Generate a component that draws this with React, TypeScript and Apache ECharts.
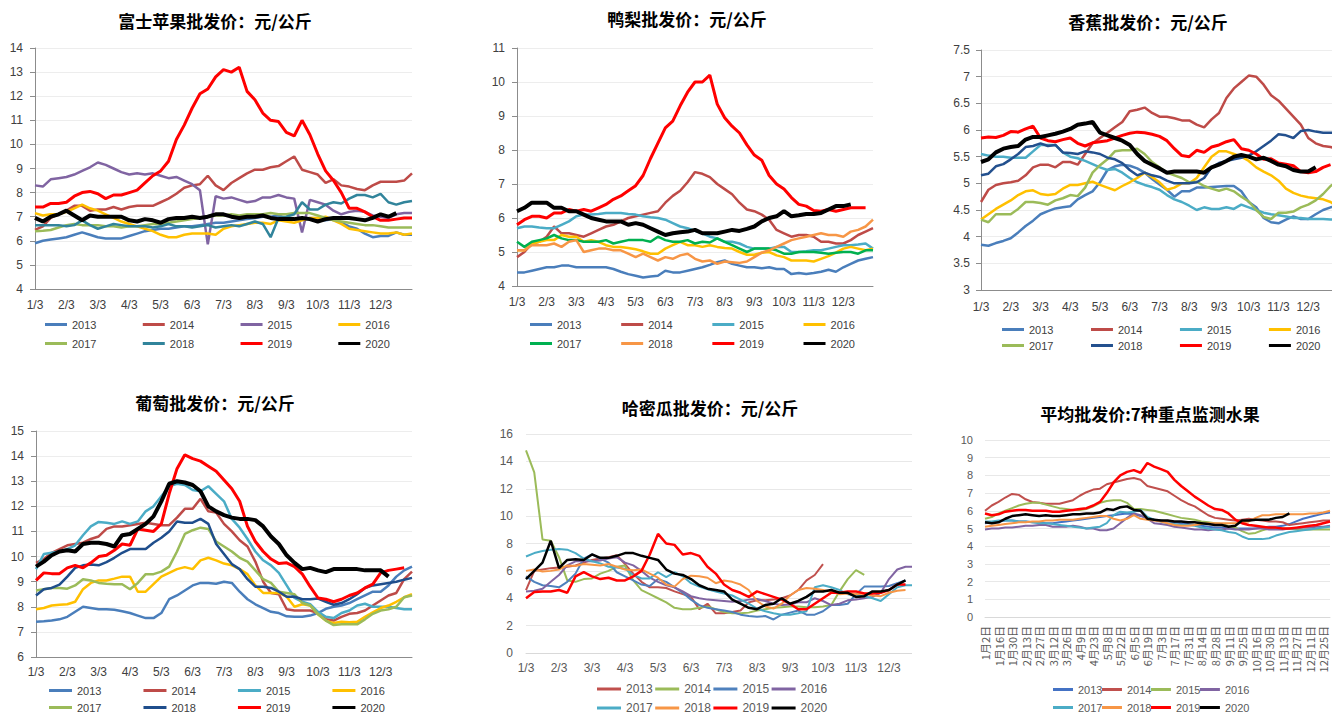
import React, { useEffect, useRef } from "react";
import * as echarts from "echarts";

const YEARS = ["2013", "2014", "2015", "2016", "2017", "2018", "2019", "2020"];
const MONTH_LABELS = ["1/3", "2/3", "3/3", "4/3", "5/3", "6/3", "7/3", "8/3", "9/3", "10/3", "11/3", "12/3"];
const WEEK_DAYS = ["3", "10", "17", "24"];
const WEEK_CATS: string[] = MONTH_LABELS.flatMap((m) => {
  const mo = m.split("/")[0];
  return WEEK_DAYS.map((d) => `${mo}/${d}`);
}).concat(["12/31"]);

const AVG_DATES = [
  "1月2日", "1月9日", "1月16日", "1月23日", "1月30日", "2月6日", "2月13日", "2月20日", "2月27日", "3月5日",
  "3月12日", "3月19日", "3月26日", "4月2日", "4月9日", "4月16日", "4月23日", "5月1日", "5月8日", "5月15日",
  "5月22日", "5月29日", "6月5日", "6月12日", "6月19日", "6月26日", "7月3日", "7月10日", "7月17日", "7月24日",
  "7月31日", "8月7日", "8月14日", "8月21日", "8月28日", "9月4日", "9月11日", "9月18日", "9月25日", "10月9日",
  "10月16日", "10月23日", "10月30日", "11月6日", "11月13日", "11月20日", "11月27日", "12月4日", "12月11日", "12月18日",
  "12月25日", "12月31日",
];

// ---------- 富士苹果 ----------
const fuji2013 = [5.9,6.0,6.05,6.1,6.15,6.25,6.35,6.25,6.15,6.1, 6.1,6.1,6.2,6.3,6.4,6.45,6.5,6.5,6.55,6.6, 6.6,6.65,6.7,6.75,6.75,6.8,6.85,6.9,6.95,7.0, 7.0,7.05,6.95,6.9,6.9,6.9,6.85,6.85,6.9,6.75, 6.6,6.5,6.3,6.15,6.2,6.2,6.35,6.25,6.25];
const fuji2014 = [6.45,6.6,6.95,7.1,7.25,7.45,7.45,7.25,7.3,7.3, 7.4,7.3,7.4,7.45,7.45,7.45,7.6,7.75,7.95,8.2, 8.3,8.35,8.7,8.3,8.1,8.4,8.6,8.8,8.95,8.95, 9.05,9.1,9.3,9.5,8.95,8.85,8.75,8.4,8.55,8.3, 8.25,8.15,8.1,8.3,8.45,8.45,8.45,8.5,8.8];
const fuji2015 = [8.3,8.25,8.55,8.6,8.65,8.75,8.9,9.05,9.25,9.15, 9.0,8.85,8.75,8.8,8.75,8.8,8.7,8.6,8.65,8.5, 8.35,8.1,5.85,7.85,7.75,7.8,7.7,7.6,7.65,7.8, 7.8,7.9,7.8,7.75,6.35,7.7,7.6,7.5,7.25,7.1, 7.2,7.25,7.2,7.05,7.0,6.95,7.1,7.15,7.15];
const fuji2016 = [7.15,7.05,7.1,7.1,7.2,7.35,7.5,7.35,7.25,7.1, 6.95,6.8,6.7,6.6,6.5,6.4,6.25,6.15,6.15,6.25, 6.3,6.3,6.3,6.25,6.5,6.6,6.65,6.7,6.75,6.75, 6.7,6.85,6.8,6.75,6.85,6.95,6.95,7.0,6.85,6.7, 6.5,6.45,6.4,6.35,6.3,6.3,6.35,6.25,6.3];
const fuji2017 = [6.4,6.42,6.45,6.55,6.65,6.7,6.65,6.65,6.65,6.6, 6.6,6.55,6.6,6.6,6.65,6.7,6.7,6.75,6.8,6.85, 6.9,6.95,7.0,7.05,7.05,7.1,7.05,7.1,7.1,7.1, 7.15,7.1,7.1,7.15,7.15,7.15,7.05,6.95,6.85,6.8, 6.75,6.7,6.65,6.65,6.6,6.55,6.55,6.55,6.55];
const fuji2018 = [6.65,6.65,6.65,6.65,6.6,6.65,6.85,6.65,6.5,6.6, 6.7,6.65,6.6,6.6,6.6,6.55,6.6,6.7,6.6,6.6, 6.55,6.6,6.65,6.55,6.6,6.65,6.6,6.7,6.8,6.7, 6.15,6.95,7.0,7.1,7.6,7.3,7.3,7.5,7.6,7.55, 7.75,7.9,7.9,7.8,7.95,7.6,7.5,7.6,7.65];
const fuji2019 = [7.4,7.4,7.55,7.55,7.6,7.85,8.0,8.05,7.95,7.75, 7.9,7.9,8.0,8.1,8.4,8.7,8.9,9.3,10.2,10.8, 11.5,12.1,12.3,12.8,13.1,13.0,13.2,12.2,11.85,11.3, 11.0,10.95,10.5,10.35,11.0,10.4,9.6,8.9,8.5,8.0, 7.35,7.35,7.2,7.0,6.85,6.85,6.9,6.95,6.95];
const fuji2020 = [6.95,6.8,7.0,7.1,7.25,7.05,6.85,7.05,7.0,7.0, 7.0,7.0,6.85,6.8,6.9,6.85,6.75,6.9,6.95,6.95, 7.0,6.95,7.0,7.1,7.1,7.0,6.95,7.0,7.0,7.05, 6.95,6.9,6.9,6.9,6.95,6.9,6.8,6.9,6.95,6.95, 6.95,6.9,6.85,6.95,7.1,7.0,7.15];

// ---------- 鸭梨 ----------
const pear2013 = [4.4,4.4,4.45,4.5,4.55,4.55,4.6,4.6,4.55,4.55, 4.55,4.55,4.55,4.5,4.42,4.35,4.3,4.25,4.28,4.3, 4.45,4.4,4.4,4.45,4.5,4.55,4.62,4.7,4.75,4.65, 4.6,4.55,4.55,4.52,4.55,4.5,4.5,4.35,4.38,4.35, 4.38,4.42,4.48,4.42,4.55,4.65,4.75,4.8,4.85];
const pear2014 = [4.85,5.0,5.25,5.3,5.45,5.75,5.55,5.55,5.5,5.45, 5.55,5.65,5.75,5.8,5.9,6.0,6.05,6.1,6.15,6.2, 6.45,6.65,6.8,7.05,7.35,7.3,7.2,7.0,6.85,6.7, 6.45,6.25,6.2,6.1,5.95,5.65,5.55,5.45,5.5,5.5, 5.45,5.3,5.3,5.25,5.25,5.35,5.5,5.6,5.7];
const pear2015 = [5.7,5.75,5.75,5.72,5.7,5.7,5.8,5.9,6.05,6.1, 6.1,6.12,6.15,6.15,6.15,6.12,6.1,6.05,6.02,6.0, 5.95,5.85,5.75,5.7,5.62,5.55,5.45,5.4,5.3,5.3, 5.25,5.15,5.1,5.1,5.1,5.15,5.15,5.0,5.0,5.02, 5.05,5.05,5.1,5.15,5.2,5.2,5.22,5.25,5.1];
const pear2016 = [5.05,5.05,5.25,5.3,5.35,5.35,5.5,5.45,5.45,5.3, 5.35,5.3,5.2,5.15,5.15,5.12,5.08,5.02,4.95,4.95, 5.1,5.2,5.3,5.2,5.2,5.15,5.2,5.15,5.12,5.1, 5.0,4.92,4.92,4.98,5.0,4.9,4.85,4.75,4.75,4.75, 4.72,4.8,4.88,4.98,5.1,5.15,5.1,5.05,5.1];
const pear2017 = [5.3,5.15,5.3,5.35,5.4,5.5,5.4,5.35,5.35,5.3, 5.3,5.3,5.35,5.25,5.3,5.35,5.35,5.35,5.3,5.45, 5.35,5.3,5.3,5.35,5.25,5.3,5.28,5.4,5.3,5.2, 5.1,5.0,5.1,5.1,5.1,5.05,4.95,4.95,5.0,5.0, 5.0,4.98,4.95,4.98,5.0,5.0,4.95,5.05,5.05];
const pear2018 = [5.05,5.05,5.2,5.2,5.2,5.25,5.15,5.3,5.35,5.0, 5.05,5.1,5.1,5.05,5.05,4.95,4.85,4.95,4.85,4.75, 4.85,4.8,4.9,4.95,4.8,4.72,4.75,4.65,4.72,4.7, 4.68,4.72,4.85,4.98,5.05,5.15,5.25,5.35,5.4,5.45, 5.5,5.55,5.5,5.5,5.45,5.6,5.65,5.75,5.95];
const pear2019 = [5.8,5.95,6.05,6.05,6.0,6.15,6.15,6.25,6.2,6.25, 6.2,6.3,6.4,6.55,6.65,6.8,6.95,7.25,7.75,8.2, 8.65,8.85,9.3,9.7,10.0,10.0,10.2,9.35,8.95,8.7, 8.5,8.15,7.85,7.7,7.25,7.0,6.85,6.6,6.4,6.35, 6.22,6.2,6.25,6.2,6.25,6.3,6.3,6.3];
const pear2020 = [6.2,6.3,6.45,6.45,6.45,6.3,6.3,6.2,6.2,6.1, 6.0,5.95,5.9,5.9,5.9,5.8,5.85,5.8,5.7,5.6, 5.5,5.55,5.58,5.6,5.65,5.55,5.55,5.55,5.6,5.65, 5.62,5.68,5.75,5.9,6.0,6.05,6.2,6.05,6.08,6.12, 6.12,6.15,6.25,6.35,6.35,6.4];

// ---------- 香蕉 ----------
const ban2013 = [3.85,3.83,3.88,3.92,3.97,4.08,4.2,4.3,4.42,4.48, 4.53,4.55,4.57,4.7,4.78,4.85,5.02,5.25,5.32,5.35, 5.33,5.28,5.2,5.08,4.98,4.88,4.75,4.85,4.85,4.92, 4.92,4.93,4.94,4.95,4.95,4.85,4.65,4.55,4.35,4.27, 4.25,4.32,4.38,4.33,4.33,4.42,4.5,4.55,4.58];
const ban2014 = [4.65,4.88,4.97,5.0,5.02,5.05,5.15,5.3,5.35,5.35, 5.3,5.4,5.4,5.35,5.55,5.75,5.85,5.95,6.05,6.15, 6.35,6.38,6.42,6.32,6.25,6.25,6.22,6.18,6.18,6.1, 6.05,6.2,6.32,6.6,6.78,6.9,7.02,7.0,6.85,6.65, 6.55,6.4,6.25,6.1,5.85,5.75,5.7,5.68,5.65];
const ban2015 = [5.55,5.52,5.5,5.5,5.48,5.48,5.48,5.6,5.72,5.72, 5.72,5.58,5.5,5.47,5.42,5.36,5.3,5.25,5.27,5.2, 5.1,5.02,4.97,4.93,4.88,4.78,4.7,4.65,4.58,4.5, 4.55,4.52,4.52,4.55,4.52,4.6,4.55,4.5,4.45,4.42, 4.4,4.38,4.35,4.35,4.33,4.33,4.33,4.32,4.32];
const ban2016 = [4.32,4.42,4.52,4.6,4.68,4.78,4.85,4.87,4.8,4.78, 4.8,4.9,4.97,4.97,5.0,5.03,4.97,4.92,4.87,4.95, 5.02,5.1,5.2,5.12,5.02,4.88,4.92,5.0,5.0,5.1, 5.3,5.5,5.6,5.6,5.55,5.5,5.42,5.3,5.22,5.15, 5.05,4.9,4.82,4.77,4.74,4.72,4.7,4.65,4.55];
const ban2017 = [4.32,4.27,4.42,4.42,4.42,4.52,4.65,4.65,4.63,4.6, 4.68,4.72,4.78,4.76,4.92,5.2,5.34,5.45,5.6,5.62, 5.62,5.65,5.55,5.4,5.3,5.2,5.15,5.1,5.02,5.03, 4.95,4.9,4.86,4.9,4.85,4.75,4.66,4.5,4.37,4.33, 4.45,4.45,4.47,4.55,4.6,4.68,4.8,4.95,5.05];
const ban2018 = [5.15,5.18,5.32,5.36,5.45,5.55,5.68,5.7,5.75,5.7, 5.72,5.58,5.57,5.55,5.6,5.58,5.55,5.48,5.45,5.38, 5.25,5.15,5.2,5.15,5.12,5.05,5.0,5.0,5.0,5.02, 5.1,5.3,5.38,5.42,5.45,5.48,5.52,5.6,5.7,5.8, 5.92,5.9,5.85,5.98,6.0,5.97,5.95,5.95,5.95];
const ban2019 = [5.85,5.87,5.86,5.9,5.97,5.96,6.02,6.07,5.85,5.8, 5.78,5.82,5.85,5.75,5.7,5.76,5.78,5.8,5.85,5.9, 5.94,5.96,5.95,5.92,5.88,5.8,5.65,5.52,5.5,5.62, 5.58,5.68,5.72,5.78,5.82,5.65,5.62,5.55,5.45,5.46, 5.38,5.36,5.33,5.22,5.2,5.22,5.3,5.35];
const ban2020 = [5.4,5.45,5.58,5.65,5.68,5.7,5.82,5.87,5.87,5.9, 5.93,5.97,6.02,6.1,6.12,6.15,5.95,5.9,5.85,5.8, 5.72,5.55,5.42,5.35,5.28,5.2,5.22,5.22,5.22,5.22, 5.2,5.3,5.35,5.42,5.5,5.53,5.5,5.45,5.48,5.42, 5.35,5.32,5.25,5.22,5.22,5.3];

// ---------- 葡萄 ----------
const gr2013 = [7.4,7.42,7.45,7.5,7.6,7.8,8.0,7.95,7.9,7.9, 7.88,7.82,7.75,7.65,7.55,7.55,7.75,8.3,8.45,8.65, 8.85,8.95,8.95,8.92,9.0,8.95,8.6,8.3,8.1,7.95, 7.8,7.75,7.62,7.6,7.6,7.65,7.75,7.92,8.0,8.05, 8.15,8.3,8.45,8.6,8.6,8.85,9.2,9.45,9.6];
const gr2014 = [9.75,9.9,10.15,10.3,10.45,10.5,10.55,10.7,10.8,11.1, 11.2,11.2,11.25,11.3,11.35,11.3,11.25,11.25,11.55,11.9, 11.9,12.3,11.8,11.75,11.3,11.0,10.65,10.4,9.8,9.0, 8.55,8.5,7.9,7.85,7.85,7.85,7.75,7.5,7.45,7.6, 7.72,7.75,7.85,8.05,8.25,8.45,8.55,9.1,9.4];
const gr2015 = [9.5,10.1,10.15,10.2,10.3,10.45,10.85,11.2,11.38,11.35, 11.3,11.4,11.3,11.4,11.8,12.0,12.4,12.8,12.9,12.85, 12.65,12.6,12.8,12.5,12.2,11.5,11.15,10.7,10.2,9.85, 9.65,9.35,8.85,8.35,8.2,8.1,7.8,7.6,7.55,7.75, 7.85,8.05,8.12,8.0,8.0,8.0,7.95,7.9,7.9];
const gr2016 = [7.9,7.95,8.05,8.08,8.1,8.2,8.7,8.95,9.05,9.05, 9.12,9.2,9.2,8.6,8.6,8.9,9.2,9.35,9.5,9.58, 9.5,9.85,9.95,9.85,9.72,9.65,9.5,9.3,8.85,8.55, 8.55,8.55,8.4,8.0,8.1,8.05,7.7,7.45,7.35,7.4, 7.38,7.4,7.6,7.78,7.95,8.05,8.2,8.38,8.5];
const gr2017 = [8.65,8.7,8.75,8.75,8.72,8.85,9.1,9.05,8.95,8.92, 8.9,8.9,8.7,8.95,9.3,9.3,9.4,9.6,10.2,10.9, 11.05,11.15,11.1,10.6,10.4,10.2,9.95,9.8,9.45,9.1, 8.95,8.6,8.55,8.5,8.15,8.05,7.7,7.45,7.27,7.3, 7.3,7.3,7.5,7.72,7.85,7.9,8.0,8.38,8.45];
const gr2018 = [8.45,8.7,8.75,8.88,9.2,9.55,9.65,9.68,9.65,9.78, 9.95,10.15,10.3,10.3,10.3,10.55,10.75,11.0,11.4,11.35, 11.35,11.5,11.3,10.5,10.1,9.7,9.5,9.1,8.8,8.8, 8.75,8.6,8.4,8.4,8.3,8.3,8.33,8.2,8.08,8.15, 8.3,8.5,8.75,8.85,8.9,8.95,9.0,9.08,9.15];
const gr2019 = [9.05,9.35,9.32,9.32,9.55,9.65,9.55,9.75,10.0,10.05, 10.25,10.5,10.45,11.1,11.05,11.0,11.3,12.5,13.5,14.05, 13.9,13.8,13.6,13.4,13.05,12.7,12.2,11.2,10.6,10.2, 9.9,9.72,9.75,9.6,9.3,8.8,8.35,8.3,8.2,8.3, 8.45,8.55,8.75,8.9,9.35,9.45,9.5,9.55];
const gr2020 = [9.6,9.8,10.05,10.2,10.25,10.2,10.5,10.55,10.55,10.5, 10.4,10.85,10.9,11.1,11.3,11.6,12.2,12.9,13.0,12.95, 12.85,12.6,12.0,11.8,11.65,11.55,11.5,11.5,11.45,11.2, 10.8,10.5,10.05,9.75,9.5,9.55,9.45,9.38,9.5,9.5, 9.5,9.5,9.45,9.45,9.45,9.2];

// ---------- 哈密瓜 ----------
const mel2013 = [4.6,6.0,6.1,6.2,6.25,6.3,6.4,6.6,6.8,6.9, 7.0,7.15,6.5,5.8,5.2,4.8,4.8,4.75,4.5,4.3, 4.1,3.2,3.6,2.9,2.9,3.0,3.1,3.7,3.85,3.85, 3.9,4.0,4.2,4.6,5.3,5.7,6.5];
const mel2014 = [14.8,13.2,8.3,8.2,7.0,5.3,5.2,5.4,5.45,5.8, 6.0,6.3,6.4,5.3,4.6,4.3,4.0,3.7,3.3,3.2, 3.2,3.3,3.4,3.2,3.0,2.9,2.9,2.95,3.1,3.2, 3.3,3.35,3.4,3.4,3.35,3.35,3.4,3.5,4.5,5.4, 6.05,5.7];
const mel2015 = [5.6,5.2,4.95,4.9,4.8,5.2,5.8,6.9,7.2,6.9, 6.6,5.9,5.6,5.3,5.0,4.9,5.4,5.2,4.8,4.4, 3.9,3.5,3.3,3.2,3.1,3.0,2.8,2.7,2.65,2.7, 2.45,2.8,2.95,3.1,2.8,2.8,3.05,3.5,3.5,3.6, 4.3,4.85,4.85,4.85,4.9,5.1,5.3];
const mel2016 = [4.5,4.55,4.7,5.2,5.7,6.4,6.7,6.7,6.7,6.75, 6.9,7.0,6.6,6.4,6.0,5.5,5.2,4.95,4.8,4.5, 4.15,4.0,3.9,3.85,3.8,3.75,3.8,3.9,3.95,3.8, 3.6,3.5,3.55,3.7,3.7,4.0,3.8,3.5,3.6,3.85, 3.9,4.0,4.1,4.4,5.4,6.1,6.3,6.3];
const mel2017 = [7.05,7.3,7.45,7.55,7.6,7.55,7.3,6.9,6.7,6.55, 6.3,6.25,6.15,5.7,5.45,5.45,5.9,5.55,5.9,5.6, 5.1,4.85,4.65,4.5,4.35,4.2,3.9,3.6,3.25,3.05, 2.9,2.8,2.8,2.9,3.05,4.8,4.95,4.8,4.6,4.3, 4.2,4.15,4.0,3.8,4.3,4.8,4.95,4.95];
const mel2018 = [6.0,6.1,5.95,6.0,6.1,6.4,6.35,6.5,6.45,6.4, 6.5,6.3,6.1,6.05,6.1,5.8,5.5,5.0,4.85,5.4, 5.65,5.6,5.5,5.1,5.3,5.2,5.0,4.6,3.8,3.4, 3.25,3.6,4.2,4.6,4.75,4.7,4.6,4.45,4.3,4.35, 4.3,4.35,4.2,4.15,4.4,4.55,4.6];
const mel2019 = [4.0,4.45,4.5,4.5,4.6,4.4,5.6,5.9,5.6,5.4, 5.5,5.3,5.3,5.6,6.0,7.2,8.7,8.0,7.9,7.2, 7.3,7.1,6.3,5.8,5.0,4.6,4.4,4.1,4.5,4.3, 4.1,3.9,3.6,3.2,3.2,3.6,4.0,4.4,4.4,4.5, 4.5,4.35,4.35,4.4,4.6,5.0,5.0];
const mel2020 = [5.4,6.0,6.6,8.2,6.2,6.8,6.85,6.8,7.2,6.95, 6.95,7.1,7.3,7.3,7.1,6.95,6.8,6.1,5.8,5.7, 5.4,4.95,4.7,4.6,4.5,3.9,3.6,3.3,3.2,3.5, 3.6,4.0,3.6,3.8,4.1,4.5,4.5,4.6,4.4,4.4, 4.1,4.15,4.5,4.5,4.6,5.0,5.3];

// ---------- 平均批发价 ----------
const avg2013 = [5.3,5.35,5.4,5.45,5.45,5.4,5.4,5.35,5.35,5.3, 5.3,5.35,5.4,5.45,5.5,5.55,5.6,5.65,5.7,5.75, 5.8,5.85,5.8,5.7,5.6,5.5,5.45,5.4,5.35,5.3, 5.25,5.2,5.15,5.1,5.05,5.05,5.0,5.0,5.0,5.0, 5.0,5.05,5.1,5.1,5.15,5.25,5.4,5.55,5.65,5.75, 5.85,5.9];
const avg2014 = [6.0,6.3,6.5,6.75,6.95,6.9,6.65,6.5,6.45,6.4, 6.4,6.4,6.5,6.6,6.85,7.05,7.2,7.25,7.5,7.6, 7.7,7.8,7.85,7.75,7.4,7.3,7.2,7.1,6.85,6.6, 6.4,6.25,6.0,5.75,5.6,5.55,5.5,5.45,5.5,5.55, 5.5,5.45,5.4,5.4,5.35,5.2,5.25,5.3,5.35,5.4, 5.45,5.45];
const avg2015 = [5.55,5.65,5.85,6.0,6.15,6.3,6.4,6.45,6.45,6.35, 6.25,6.15,6.1,6.05,6.05,6.1,6.25,6.45,6.55,6.6, 6.6,6.45,6.1,6.1,6.05,6.0,5.9,5.8,5.7,5.6, 5.55,5.5,5.4,5.35,5.3,5.25,5.15,5.05,4.85,4.7, 4.75,4.9,5.0,5.0,5.0,5.0,4.95,4.95,4.95,4.95, 4.95,4.95];
const avg2016 = [4.95,5.0,5.0,5.05,5.05,5.1,5.15,5.15,5.2,5.2, 5.1,5.1,5.1,5.15,5.1,5.0,5.0,4.9,4.9,5.0, 5.3,5.6,5.85,5.75,5.55,5.3,5.25,5.2,5.1,5.05, 5.0,4.95,4.95,4.9,4.95,4.95,5.0,4.95,4.95,4.95, 5.0,5.0,4.95,4.95,4.95,5.0,5.0,5.05,5.05,5.1, 5.1,5.15];
const avg2017 = [5.4,5.4,5.45,5.45,5.45,5.4,5.4,5.35,5.3,5.3, 5.25,5.2,5.15,5.1,5.05,5.0,5.05,5.1,5.3,5.75, 5.95,5.9,5.95,6.05,5.65,5.5,5.4,5.3,5.25,5.2, 5.2,5.15,5.05,5.0,4.95,4.9,4.8,4.75,4.55,4.4, 4.4,4.4,4.45,4.6,4.7,4.8,4.85,4.9,4.95,5.0, 5.05,5.1];
const avg2018 = [5.1,5.15,5.2,5.25,5.3,5.35,5.35,5.4,5.4,5.45, 5.45,5.5,5.5,5.5,5.55,5.6,5.65,5.7,5.7,5.55, 5.45,5.55,5.75,5.55,5.5,5.45,5.4,5.3,5.2,5.15, 5.15,5.2,5.25,5.3,5.3,5.3,5.3,5.3,5.35,5.4, 5.6,5.75,5.75,5.8,5.8,5.8,5.8,5.8,5.85,5.85, 5.9,6.0];
const avg2019 = [5.85,5.75,5.8,5.95,6.0,6.05,6.05,6.0,6.0,6.0, 5.95,5.95,6.0,6.05,6.1,6.15,6.3,6.5,7.0,7.6, 8.0,8.2,8.3,8.15,8.7,8.5,8.35,8.2,7.75,7.4, 7.1,6.8,6.55,6.3,6.1,6.05,5.85,5.5,5.3,5.2, 5.15,5.1,5.05,5.05,5.0,5.0,5.05,5.1,5.15,5.2, 5.3,5.4];
const avg2020 = [5.35,5.3,5.35,5.55,5.7,5.75,5.8,5.75,5.7,5.75, 5.7,5.7,5.75,5.8,5.8,5.85,5.85,5.9,6.1,6.05, 6.2,6.25,6.05,6.0,5.55,5.5,5.45,5.45,5.4,5.4, 5.35,5.35,5.3,5.25,5.2,5.2,5.1,5.15,5.45,5.45, 5.5,5.5,5.5,5.6,5.65,5.85];

type Panel = {
  key: string;
  box: { left: number; top: number; width: number; height: number };
  bg?: string;
  zIndex?: number;
  title: string;
  titleX: number;
  titleTop: number;
  grid: { left: number; top: number; width: number; height: number };
  yMin: number;
  yMax: number;
  yInterval: number;
  cats: string[];
  labelEvery: number;
  labelLast: number;
  rotate: number;
  xLabelMargin: number;
  yLabelMargin: number;
  labelColor: string;
  labelSize: number;
  axisColor: string;
  showYAxisLine: boolean;
  yTicks: boolean;
  gridColor: string;
  colors: string[];
  widths: number[];
  data: number[][];
  legend: { left: number; rows: [number, number]; icon: number; text: number; gap: number; size: number; color: string };
};

const W_BIG = [2.5, 2.5, 2.5, 2.5, 2.5, 2.5, 3, 4];
const W_SMALL = [2, 2, 2, 2, 2, 2, 2.5, 2.5];

const PANELS: Panel[] = [
  {
    key: "fuji", box: { left: 0, top: 0, width: 450, height: 372 },
    title: "富士苹果批发价：元/公斤", titleX: 215, titleTop: 12,
    grid: { left: 35, top: 48, width: 377, height: 241 },
    yMin: 4, yMax: 14, yInterval: 1, cats: WEEK_CATS, labelEvery: 4, labelLast: 44, rotate: 0,
    xLabelMargin: 10, yLabelMargin: 12, labelColor: "#404040", labelSize: 12, axisColor: "#8C8C8C",
    showYAxisLine: true, yTicks: true, gridColor: "#EDEDED",
    colors: ["#4A7EBB", "#BE4B48", "#8064A2", "#FFC000", "#9BBB59", "#31849B", "#FF0000", "#000000"],
    widths: W_BIG,
    data: [fuji2013, fuji2014, fuji2015, fuji2016, fuji2017, fuji2018, fuji2019, fuji2020],
    legend: { left: 45, rows: [326, 345], icon: 22, text: 25, gap: 46.3, size: 11, color: "#404040" },
  },
  {
    key: "pear", box: { left: 450, top: 0, width: 440, height: 372 },
    title: "鸭梨批发价：元/公斤", titleX: 237, titleTop: 10,
    grid: { left: 67, top: 48, width: 356, height: 238 },
    yMin: 4, yMax: 11, yInterval: 1, cats: WEEK_CATS, labelEvery: 4, labelLast: 44, rotate: 0,
    xLabelMargin: 10, yLabelMargin: 12, labelColor: "#404040", labelSize: 12, axisColor: "#8C8C8C",
    showYAxisLine: true, yTicks: true, gridColor: "#EDEDED",
    colors: ["#4A7EBB", "#BE4B48", "#4BACC6", "#FFC000", "#00B050", "#F79646", "#FF0000", "#000000"],
    widths: W_BIG,
    data: [pear2013, pear2014, pear2015, pear2016, pear2017, pear2018, pear2019, pear2020],
    legend: { left: 80, rows: [326, 345], icon: 22, text: 25, gap: 39.7, size: 11, color: "#404040" },
  },
  {
    key: "banana", box: { left: 890, top: 0, width: 460, height: 372 },
    title: "香蕉批发价：元/公斤", titleX: 258, titleTop: 13,
    grid: { left: 91, top: 50, width: 357, height: 240 },
    yMin: 3, yMax: 7.5, yInterval: 0.5, cats: WEEK_CATS, labelEvery: 4, labelLast: 44, rotate: 0,
    xLabelMargin: 11, yLabelMargin: 11, labelColor: "#404040", labelSize: 12, axisColor: "#8C8C8C",
    showYAxisLine: true, yTicks: true, gridColor: "#EDEDED",
    colors: ["#4A7EBB", "#BE4B48", "#4BACC6", "#FFC000", "#9BBB59", "#23508E", "#FF0000", "#000000"],
    widths: W_BIG,
    data: [ban2013, ban2014, ban2015, ban2016, ban2017, ban2018, ban2019, ban2020],
    legend: { left: 112, rows: [331, 347], icon: 22, text: 25, gap: 37.5, size: 11, color: "#404040" },
  },
  {
    key: "grape", box: { left: 0, top: 380, width: 450, height: 336 },
    title: "葡萄批发价：元/公斤", titleX: 215, titleTop: 14,
    grid: { left: 36, top: 51, width: 376, height: 226 },
    yMin: 6, yMax: 15, yInterval: 1, cats: WEEK_CATS, labelEvery: 4, labelLast: 44, rotate: 0,
    xLabelMargin: 9, yLabelMargin: 12, labelColor: "#404040", labelSize: 12, axisColor: "#8C8C8C",
    showYAxisLine: true, yTicks: true, gridColor: "#EDEDED",
    colors: ["#4A7EBB", "#BE4B48", "#4BACC6", "#FFC000", "#9BBB59", "#1F4E8C", "#FF0000", "#000000"],
    widths: W_BIG,
    data: [gr2013, gr2014, gr2015, gr2016, gr2017, gr2018, gr2019, gr2020],
    legend: { left: 49, rows: [312, 329], icon: 23, text: 25, gap: 42, size: 11, color: "#404040" },
  },
  {
    key: "melon", box: { left: 450, top: 380, width: 475, height: 336 },
    title: "哈密瓜批发价：元/公斤", titleX: 260, titleTop: 19,
    grid: { left: 76, top: 54, width: 396, height: 219 },
    yMin: 0, yMax: 16, yInterval: 2, cats: WEEK_CATS, labelEvery: 4, labelLast: 44, rotate: 0,
    xLabelMargin: 9, yLabelMargin: 13, labelColor: "#595959", labelSize: 12, axisColor: "#D9D9D9",
    showYAxisLine: false, yTicks: false, gridColor: "#E8E8E8",
    colors: ["#C0504D", "#9BBB59", "#4F81BD", "#8064A2", "#4BACC6", "#F79646", "#FF0000", "#000000"],
    widths: W_SMALL,
    data: [mel2013, mel2014, mel2015, mel2016, mel2017, mel2018, mel2019, mel2020],
    legend: { left: 147, rows: [310, 329], icon: 24, text: 27, gap: 2.5, size: 12, color: "#595959" },
  },
  {
    key: "avg", box: { left: 912, top: 380, width: 440, height: 336 }, bg: "#ffffff", zIndex: 2,
    title: "平均批发价:7种重点监测水果", titleX: 238, titleTop: 25,
    grid: { left: 73, top: 60, width: 345, height: 177 },
    yMin: 0, yMax: 10, yInterval: 1, cats: AVG_DATES, labelEvery: 2, labelLast: 50, rotate: 90,
    xLabelMargin: 9, yLabelMargin: 12, labelColor: "#595959", labelSize: 11, axisColor: "#D9D9D9",
    showYAxisLine: false, yTicks: false, gridColor: "#E8E8E8",
    colors: ["#4472C4", "#C0504D", "#9BBB59", "#8064A2", "#4BACC6", "#F79646", "#FF0000", "#000000"],
    widths: W_SMALL,
    data: [avg2013, avg2014, avg2015, avg2016, avg2017, avg2018, avg2019, avg2020],
    legend: { left: 141, rows: [311, 329], icon: 20, text: 25, gap: -0.5, size: 11, color: "#595959" },
  },
];

const NUM_FONT = "'Liberation Sans', Arial, sans-serif";
const CJK_FONT = "'Noto Sans CJK SC', 'Noto Sans', sans-serif";

function buildOption(p: Panel) {
  const legend = (names: string[], rowY: number) => ({
    data: names,
    left: p.legend.left,
    top: rowY - 7,
    orient: "horizontal",
    icon: "rect",
    itemWidth: p.legend.icon,
    itemHeight: 3,
    itemGap: p.legend.gap,
    padding: 0,
    selectedMode: false,
    textStyle: { width: p.legend.text, fontSize: p.legend.size, color: p.legend.color, fontFamily: NUM_FONT },
  });
  return {
    animation: false,
    backgroundColor: p.bg || "transparent",
    title: {
      text: p.title,
      left: p.titleX,
      top: p.titleTop,
      textAlign: "center",
      padding: 0,
      textStyle: { fontSize: 17, fontWeight: "bold", color: "#000", fontFamily: CJK_FONT },
    },
    grid: { ...p.grid, containLabel: false },
    legend: [legend(YEARS.slice(0, 4), p.legend.rows[0]), legend(YEARS.slice(4), p.legend.rows[1])],
    xAxis: {
      type: "category",
      boundaryGap: false,
      data: p.cats,
      axisLine: { show: true, lineStyle: { color: p.axisColor, width: 1 } },
      axisTick: { show: false },
      splitLine: { show: false },
      axisLabel: {
        interval: (i: number) => i % p.labelEvery === 0 && i <= p.labelLast,
        rotate: p.rotate,
        margin: p.xLabelMargin,
        color: p.labelColor,
        fontSize: p.labelSize,
        fontFamily: p.rotate ? CJK_FONT : NUM_FONT,
      },
    },
    yAxis: {
      type: "value",
      min: p.yMin,
      max: p.yMax,
      interval: p.yInterval,
      axisLine: { show: p.showYAxisLine, lineStyle: { color: p.axisColor, width: 1 } },
      axisTick: { show: p.yTicks, length: 5, lineStyle: { color: p.axisColor } },
      splitLine: { show: true, lineStyle: { color: p.gridColor, width: 1 } },
      axisLabel: { margin: p.yLabelMargin, color: p.labelColor, fontSize: p.labelSize, fontFamily: NUM_FONT },
    },
    series: YEARS.map((y, k) => ({
      name: y,
      type: "line",
      data: p.data[k],
      symbol: "none",
      showSymbol: false,
      smooth: false,
      lineStyle: { width: p.widths[k], color: p.colors[k] },
      itemStyle: { color: p.colors[k] },
    })),
  };
}

function Chart({ p }: { p: Panel }) {
  const ref = useRef<HTMLDivElement>(null);
  useEffect(() => {
    if (!ref.current) return;
    const chart = echarts.init(ref.current, null, { renderer: "svg" });
    chart.setOption(buildOption(p) as any);
    return () => chart.dispose();
  }, [p]);
  return (
    <div
      ref={ref}
      style={{
        position: "absolute",
        left: p.box.left,
        top: p.box.top,
        width: p.box.width,
        height: p.box.height,
        background: p.bg || "transparent",
        zIndex: p.zIndex || 1,
      }}
    />
  );
}

export default function App() {
  return (
    <div
      style={{
        position: "fixed",
        left: 0,
        top: 0,
        width: 1332,
        height: 716,
        overflow: "hidden",
        background: "#ffffff",
      }}
    >
      {PANELS.map((p) => (
        <Chart key={p.key} p={p} />
      ))}
    </div>
  );
}
